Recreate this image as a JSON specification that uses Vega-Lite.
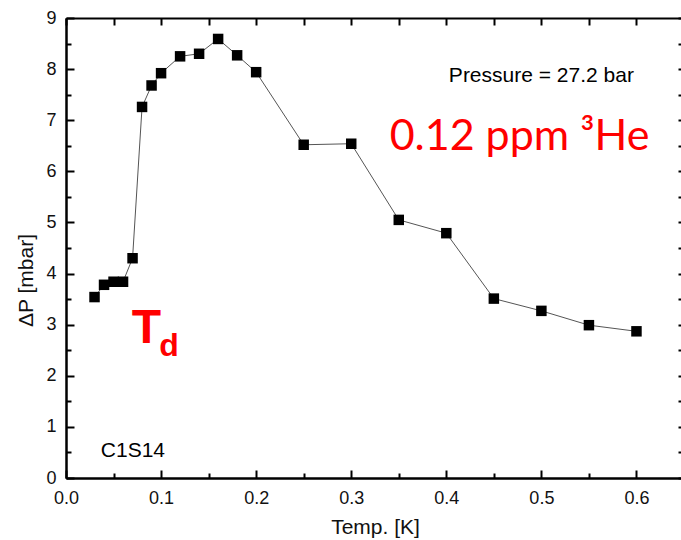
{
  "$schema": "https://vega.github.io/schema/vega-lite/v6.json",
  "width": 618,
  "height": 460,
  "autosize": "none",
  "padding": {"left": 66, "top": 18, "right": 0, "bottom": 62},
  "background": "white",
  "config": {
    "view": {"stroke": null},
    "axis": {
      "grid": false,
      "domainColor": "black",
      "tickColor": "black",
      "domainWidth": 2,
      "tickWidth": 2,
      "labelFlush": false,
      "labelFont": "Liberation Sans",
      "titleFont": "Liberation Sans",
      "labelFontSize": 18,
      "titleFontSize": 21,
      "titleFontWeight": "normal",
      "labelColor": "#111",
      "titleColor": "#111"
    }
  },
  "datasets": {
    "pts": [
      {"T": 0.03, "dP": 3.54},
      {"T": 0.04, "dP": 3.78},
      {"T": 0.05, "dP": 3.84},
      {"T": 0.06, "dP": 3.84},
      {"T": 0.07, "dP": 4.30},
      {"T": 0.08, "dP": 7.26},
      {"T": 0.09, "dP": 7.68},
      {"T": 0.10, "dP": 7.92},
      {"T": 0.12, "dP": 8.25},
      {"T": 0.14, "dP": 8.30},
      {"T": 0.16, "dP": 8.59},
      {"T": 0.18, "dP": 8.27},
      {"T": 0.20, "dP": 7.94},
      {"T": 0.25, "dP": 6.52},
      {"T": 0.30, "dP": 6.54},
      {"T": 0.35, "dP": 5.05},
      {"T": 0.40, "dP": 4.79},
      {"T": 0.45, "dP": 3.51},
      {"T": 0.50, "dP": 3.27},
      {"T": 0.55, "dP": 2.99},
      {"T": 0.60, "dP": 2.87}
    ],
    "pressure": [{"T": 0.5, "dP": 7.74, "label": "Pressure = 27.2 bar"}],
    "conc": [{"T": 0.477, "dP": 6.42, "label": "0.12 ppm ³He"}],
    "tmain": [{"T": 0.0846, "dP": 2.64, "label": "T"}],
    "tsub": [{"T": 0.1083, "dP": 2.39, "label": "d"}],
    "sample": [{"T": 0.0704, "dP": 0.41, "label": "C1S14"}]
  },
  "layer": [
    {
      "data": {"name": "pts"},
      "mark": {"type": "line", "color": "#555", "strokeWidth": 1},
      "encoding": {
        "x": {
          "field": "T", "type": "quantitative",
          "scale": {"domain": [0, 0.65], "nice": false, "zero": false},
          "axis": {
            "orient": "bottom",
            "values": [0, 0.1, 0.2, 0.3, 0.4, 0.5, 0.6],
            "format": ".1f",
            "tickSize": -8,
            "labelPadding": 19,
            "title": "Temp. [K]",
            "titleY": 55,
            "titleBaseline": "alphabetic"
          }
        },
        "y": {
          "field": "dP", "type": "quantitative",
          "scale": {"domain": [0, 9], "nice": false},
          "axis": {
            "orient": "left",
            "values": [0, 1, 2, 3, 4, 5, 6, 7, 8, 9],
            "format": "d",
            "tickSize": -8,
            "labelPadding": 18,
            "title": "ΔP [mbar]",
            "titleX": -40,
            "titleY": 262,
            "titleAngle": 270,
            "titleAlign": "center",
            "titleBaseline": "middle"
          }
        }
      }
    },
    {
      "data": {"name": "pts"},
      "mark": {"type": "square", "size": 110, "filled": true, "color": "black", "opacity": 1},
      "encoding": {
        "x": {
          "field": "T", "type": "quantitative",
          "axis": {
            "orient": "bottom",
            "values": [0.05, 0.15, 0.25, 0.35, 0.45, 0.55, 0.65],
            "tickSize": -5,
            "labels": false,
            "title": null
          }
        },
        "y": {
          "field": "dP", "type": "quantitative",
          "axis": {
            "orient": "left",
            "values": [0.5, 1.5, 2.5, 3.5, 4.5, 5.5, 6.5, 7.5, 8.5],
            "tickSize": -5,
            "labels": false,
            "title": null
          }
        }
      }
    },
    {
      "data": {"name": "pressure"},
      "mark": {"type": "text", "font": "Liberation Sans", "fontSize": 21, "color": "black", "align": "center", "baseline": "alphabetic"},
      "encoding": {
        "x": {
          "field": "T", "type": "quantitative",
          "axis": {
            "orient": "top",
            "values": [0, 0.05, 0.1, 0.15, 0.2, 0.25, 0.3, 0.35, 0.4, 0.45, 0.5, 0.55, 0.6, 0.65],
            "tickSize": -7,
            "labels": false,
            "title": null
          }
        },
        "y": {
          "field": "dP", "type": "quantitative",
          "axis": {
            "orient": "right",
            "values": [0, 0.5, 1, 1.5, 2, 2.5, 3, 3.5, 4, 4.5, 5, 5.5, 6, 6.5, 7, 7.5, 8, 8.5, 9],
            "tickSize": -6,
            "labels": false,
            "title": null
          }
        },
        "text": {"field": "label"}
      }
    },
    {
      "data": {"name": "conc"},
      "mark": {"type": "text", "font": "Lato", "fontSize": 43, "color": "#ff0000", "align": "center", "baseline": "alphabetic"},
      "encoding": {
        "x": {"field": "T", "type": "quantitative", "axis": null},
        "y": {"field": "dP", "type": "quantitative", "axis": null},
        "text": {"field": "label"}
      }
    },
    {
      "data": {"name": "tmain"},
      "mark": {"type": "text", "font": "Liberation Sans", "fontSize": 48, "fontWeight": "bold", "color": "#ff0000", "align": "center", "baseline": "alphabetic"},
      "encoding": {
        "x": {"field": "T", "type": "quantitative", "axis": null},
        "y": {"field": "dP", "type": "quantitative", "axis": null},
        "text": {"field": "label"}
      }
    },
    {
      "data": {"name": "tsub"},
      "mark": {"type": "text", "font": "Liberation Sans", "fontSize": 32, "fontWeight": "bold", "color": "#ff0000", "align": "center", "baseline": "alphabetic"},
      "encoding": {
        "x": {"field": "T", "type": "quantitative", "axis": null},
        "y": {"field": "dP", "type": "quantitative", "axis": null},
        "text": {"field": "label"}
      }
    },
    {
      "data": {"name": "sample"},
      "mark": {"type": "text", "font": "Liberation Sans", "fontSize": 21, "color": "black", "align": "center", "baseline": "alphabetic"},
      "encoding": {
        "x": {"field": "T", "type": "quantitative", "axis": null},
        "y": {"field": "dP", "type": "quantitative", "axis": null},
        "text": {"field": "label"}
      }
    }
  ],
  "resolve": {"axis": {"x": "independent", "y": "independent"}}
}
